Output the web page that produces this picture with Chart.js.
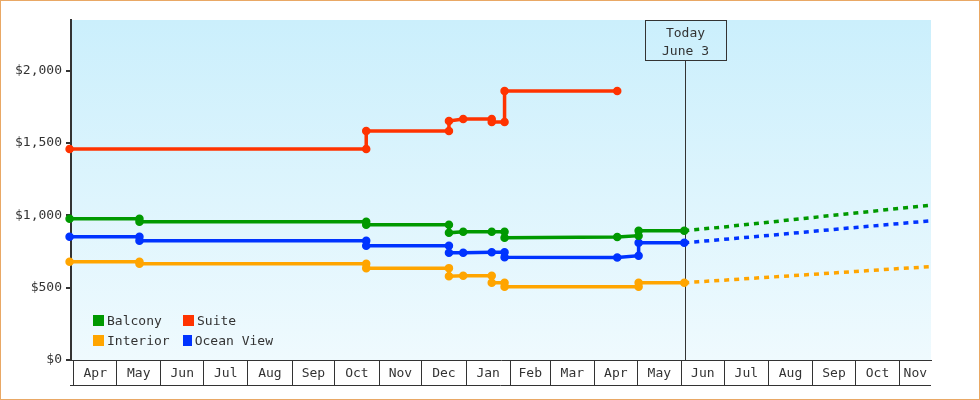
<!DOCTYPE html>
<html>
<head>
<meta charset="utf-8">
<script src="https://cdn.jsdelivr.net/npm/chart.js@4.4.1/dist/chart.umd.min.js"></script>
<style>
    html, body { margin: 0; padding: 0; background: #fff; }
    #wrap { position: relative; width: 980px; height: 400px; }
    #legend {
        position: absolute; left: 93px; top: 310px;
        display: grid; grid-template-rows: 20px 20px; grid-auto-flow: column; grid-auto-columns: 90px;
        font: 13px 'DejaVu Sans Mono', monospace; color: #333;
    }
    #legend div { display: flex; align-items: center; height: 20px; white-space: nowrap; }
    #legend .sw { display: inline-block; width: 11px; height: 11px; margin-right: 3px; }
</style>
</head>
<body>
<div id="wrap">
    <canvas id="price-chart" width="980" height="400"></canvas>
    <div id="legend"></div>
</div>
<script>
// tick labels
var monthLabels = ['Apr', 'May', 'Jun', 'Jul', 'Aug', 'Sep', 'Oct', 'Nov', 'Dec', 'Jan',
    'Feb', 'Mar', 'Apr', 'May', 'Jun', 'Jul', 'Aug', 'Sep', 'Oct', 'Nov'];
var priceTicks = [0, 500, 1000, 1500, 2000];
var axisStart = '2018-03-30';
var axisEnd = '2019-11-23';
var todayDate = '2019-06-03';
var todayText = ['Today', 'June 3'];

// price history per cabin type
var balconyDates = ['2018-03-29', '2018-05-17', '2018-05-17', '2018-10-23', '2018-10-23', '2018-12-20', '2018-12-20',
    '2018-12-30', '2019-01-19', '2019-01-28', '2019-01-28', '2019-04-17', '2019-05-02', '2019-05-02', '2019-06-03'];
var balconyPrices = [976, 976, 955, 955, 934, 934, 879, 886, 886, 886, 845, 850, 859, 893, 893];

var interiorDates = ['2018-03-29', '2018-05-17', '2018-05-17', '2018-10-23', '2018-10-23', '2018-12-20', '2018-12-20',
    '2018-12-30', '2019-01-19', '2019-01-19', '2019-01-28', '2019-01-28', '2019-05-02', '2019-05-02', '2019-06-03'];
var interiorPrices = [679, 679, 666, 666, 635, 635, 579, 583, 583, 534, 534, 507, 507, 534, 534];

var suiteDates = ['2018-03-29', '2018-10-23', '2018-10-23', '2018-12-20', '2018-12-20', '2018-12-30',
    '2019-01-19', '2019-01-19', '2019-01-28', '2019-01-28', '2019-04-17'];
var suitePrices = [1459, 1459, 1583, 1583, 1652, 1666, 1666, 1645, 1645, 1859, 1859];

var oceanDates = ['2018-03-29', '2018-05-17', '2018-05-17', '2018-10-23', '2018-10-23', '2018-12-20', '2018-12-20',
    '2018-12-30', '2019-01-19', '2019-01-28', '2019-01-28', '2019-04-17', '2019-05-02', '2019-05-02', '2019-06-03'];
var oceanPrices = [852, 852, 824, 824, 790, 790, 741, 741, 745, 745, 710, 709, 721, 810, 810];

// projected prices (dashed)
var forecastDates = ['2019-06-03', '2019-07-01', '2019-08-01', '2019-09-01', '2019-10-01', '2019-11-01', '2019-11-23'];
var balconyForecast = [893, 920, 952, 985, 1016, 1048, 1070];
var interiorForecast = [534, 552, 572, 592, 612, 632, 645];
var oceanForecast = [810, 834, 861, 889, 916, 943, 962];

var seriesNames = ['Balcony', 'Interior', 'Suite', 'Ocean View'];
var seriesColours = ['#009900', '#ffa500', '#ff3300', '#0033ff'];

var FONT = {family: "'DejaVu Sans Mono', monospace", size: 13};
var INK = '#333333';

function dayNum(s) {
    var p = s.split('-');
    return (Date.UTC(+p[0], +p[1] - 1, +p[2]) - Date.UTC(2018, 3, 1)) / 864e5;
}

function money(v) {
    return '$' + String(v).replace(/\B(?=(\d{3})+(?!\d))/g, ',');
}

var xMin = dayNum(axisStart), xMax = dayNum(axisEnd);

// month boxes: a boundary tick (no label) then a label tick in the middle of the month
var xTicks = [];
monthLabels.forEach(function (m, i) {
    var start = (Date.UTC(2018, 3 + i, 1) - Date.UTC(2018, 3, 1)) / 864e5;
    var end = i + 1 < monthLabels.length ? (Date.UTC(2018, 4 + i, 1) - Date.UTC(2018, 3, 1)) / 864e5 : xMax;
    xTicks.push({value: start, text: ''});
    xTicks.push({value: (Math.max(start, xMin) + end) / 2, text: m});
});

function points(dates, prices) {
    return dates.map(function (d, i) {
        return {x: dayNum(d), y: prices[i]};
    });
}

function solid(i, dates, prices) {
    return {
        label: seriesNames[i],
        data: points(dates, prices),
        borderColor: seriesColours[i],
        backgroundColor: seriesColours[i],
        borderWidth: 3.5,
        pointRadius: 3.5,
        pointBorderWidth: 1.5,
        pointHoverRadius: 3.5,
        tension: 0,
        clip: false
    };
}

function dashed(i, prices) {
    return {
        label: seriesNames[i] + ' forecast',
        data: points(forecastDates, prices),
        borderColor: seriesColours[i],
        borderWidth: 3.5,
        borderDash: [5, 5],
        pointRadius: 0,
        tension: 0
    };
}

var backdrop = {
    id: 'backdrop',
    beforeDraw: function (chart) {
        var ctx = chart.ctx, a = chart.chartArea;
        ctx.save();
        ctx.fillStyle = '#ffffff';
        ctx.fillRect(0, 0, chart.width, chart.height);
        var g = ctx.createLinearGradient(0, a.top, 0, a.bottom);
        g.addColorStop(0, '#cbeffc');
        g.addColorStop(1, '#effafe');
        ctx.fillStyle = g;
        ctx.fillRect(a.left, a.top, a.right - a.left, a.bottom - a.top);
        ctx.restore();
    },
    afterDraw: function (chart) {
        var ctx = chart.ctx, xs = chart.scales.x;
        ctx.save();
        // bottom edge of the month boxes
        ctx.strokeStyle = INK;
        ctx.lineWidth = 1;
        ctx.beginPath();
        ctx.moveTo(xs.left - 1, xs.bottom + 0.5);
        ctx.lineTo(xs.right, xs.bottom + 0.5);
        ctx.stroke();
        // outer frame
        ctx.strokeStyle = '#e9a865';
        ctx.strokeRect(0.5, 0.5, chart.width - 1, chart.height - 1);
        ctx.restore();
    }
};

var todayMarker = {
    id: 'todayMarker',
    beforeDatasetsDraw: function (chart) {
        var ctx = chart.ctx, a = chart.chartArea;
        // marker sits at midday
        var x = Math.round(chart.scales.x.getPixelForValue(dayNum(todayDate) + 0.5)) + 0.5;
        var boxW = 81, boxH = 40;
        ctx.save();
        ctx.strokeStyle = INK;
        ctx.lineWidth = 1;
        ctx.strokeRect(Math.round(x - boxW / 2) + 0.5, a.top + 0.5, boxW, boxH);
        ctx.beginPath();
        ctx.moveTo(x, a.top + boxH);
        ctx.lineTo(x, a.bottom);
        ctx.stroke();
        ctx.fillStyle = INK;
        ctx.font = FONT.size + 'px ' + FONT.family;
        ctx.textAlign = 'center';
        ctx.textBaseline = 'alphabetic';
        ctx.fillText(todayText[0], x, a.top + 17);
        ctx.fillText(todayText[1], x, a.top + 35);
        ctx.restore();
    }
};

var chart = new Chart(document.getElementById('price-chart'), {
    type: 'line',
    data: {
        datasets: [
            solid(0, balconyDates, balconyPrices),
            solid(1, interiorDates, interiorPrices),
            solid(2, suiteDates, suitePrices),
            solid(3, oceanDates, oceanPrices),
            dashed(0, balconyForecast),
            dashed(1, interiorForecast),
            dashed(3, oceanForecast)
        ]
    },
    options: {
        responsive: false,
        animation: false,
        layout: {padding: {top: 20, right: 49, bottom: 15, left: 0}},
        plugins: {
            legend: {display: false},
            tooltip: {enabled: false}
        },
        scales: {
            x: {
                type: 'linear',
                min: xMin,
                max: xMax,
                afterFit: function (s) { s.height = 25; },
                afterBuildTicks: function (s) {
                    s.ticks = xTicks.map(function (t) { return {value: t.value}; });
                },
                ticks: {
                    autoSkip: false,
                    maxRotation: 0,
                    padding: -19,
                    color: INK,
                    font: FONT,
                    callback: function (v, i) { return xTicks[i].text; }
                },
                grid: {
                    drawOnChartArea: false,
                    tickLength: 25,
                    lineWidth: 1,
                    color: function (ctx) { return ctx.index % 2 === 0 ? INK : 'rgba(0,0,0,0)'; }
                },
                border: {display: true, color: INK, width: 1}
            },
            y: {
                min: 0,
                max: 2350,
                afterFit: function (s) { s.width = 71; },
                afterBuildTicks: function (s) {
                    s.ticks = priceTicks.map(function (v) { return {value: v}; });
                },
                ticks: {
                    padding: 4,
                    color: INK,
                    font: FONT,
                    callback: function (v) { return money(v); }
                },
                grid: {drawOnChartArea: false, tickLength: 5, lineWidth: 2, color: INK},
                border: {display: true, color: INK, width: 2}
            }
        }
    },
    plugins: [backdrop, todayMarker]
});

// legend inside the plot, built from the solid series
var legendEl = document.getElementById('legend');
chart.data.datasets.slice(0, 4).forEach(function (ds) {
    var item = document.createElement('div');
    var sw = document.createElement('span');
    sw.className = 'sw';
    sw.style.background = ds.borderColor;
    item.appendChild(sw);
    item.appendChild(document.createTextNode(ds.label));
    legendEl.appendChild(item);
});
</script>
</body>
</html>
